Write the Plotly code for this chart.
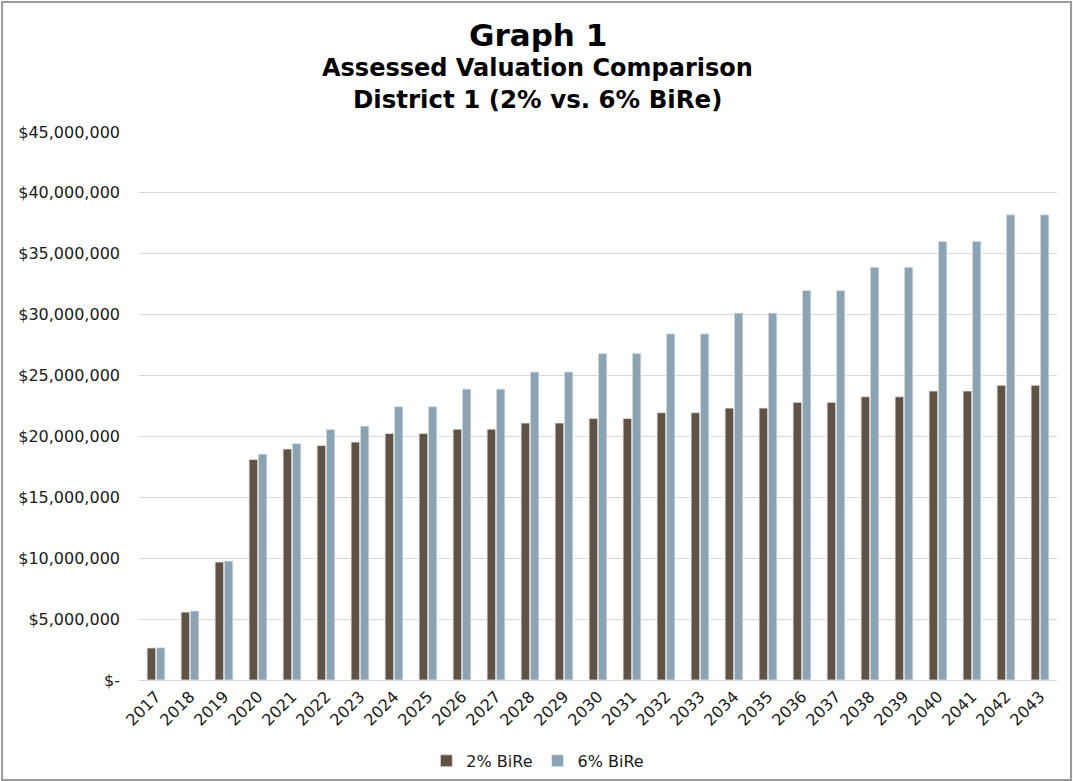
"""Assessed valuation comparison bar chart (Graph 1)."""

import plotly.graph_objects as go

years = [str(y) for y in range(2017, 2044)]

bire_2 = [
    2.63, 5.58, 9.69, 18.10, 18.97, 19.25, 19.54, 20.24, 20.24, 20.60,
    20.60, 21.10, 21.10, 21.48, 21.48, 21.95, 21.95, 22.33, 22.33, 22.80,
    22.80, 23.26, 23.26, 23.73, 23.73, 24.20, 24.20,
]
bire_6 = [
    2.65, 5.67, 9.77, 18.55, 19.42, 20.57, 20.85, 22.45, 22.45, 23.89,
    23.89, 25.30, 25.30, 26.82, 26.82, 28.43, 28.43, 30.13, 30.13, 31.99,
    31.99, 33.90, 33.90, 36.02, 36.02, 38.20, 38.20,
]
bire_2 = [v * 1_000_000 for v in bire_2]
bire_6 = [v * 1_000_000 for v in bire_6]

y_ticks = [i * 5_000_000 for i in range(10)]
y_labels = ["$-"] + [f"${v:,.0f}" for v in y_ticks[1:]]

title_lines = ["Graph 1", "Assessed Valuation Comparison", "District 1 (2% vs. 6% BiRe)"]

FONT = "DejaVu Sans"
TEXT = "#1a1a1a"

fig = go.Figure()
fig.add_trace(go.Bar(
    x=years, y=bire_2, name="2% BiRe",
    marker=dict(color="#5F5346", line=dict(color="#E8E4DF", width=0.8)),
))
fig.add_trace(go.Bar(
    x=years, y=bire_6, name="6% BiRe",
    marker=dict(color="#8BA3B3", line=dict(color="#E3EBF0", width=0.8)),
))

# title lines as separate annotations so spacing matches
title_annots = []
for text, ypos, size in zip(title_lines, [1.177, 1.117, 1.060], [31, 24, 24.5]):
    title_annots.append(dict(
        text=f"<b>{text}</b>", xref="paper", yref="paper",
        x=0.4345, y=ypos, xanchor="center", yanchor="middle",
        showarrow=False, font=dict(family=FONT, size=size, color="#000000"),
    ))

fig.update_layout(
    width=1073,
    height=781,
    template="plotly_white",
    paper_bgcolor="white",
    plot_bgcolor="white",
    font=dict(family=FONT, size=16, color=TEXT),
    margin=dict(l=139, r=16, t=132, b=101, autoexpand=False),
    barmode="group",
    bargap=0.46,
    bargroupgap=0.06,
    annotations=title_annots,
    legend=dict(
        orientation="h",
        x=0.4345,
        xanchor="center",
        y=-0.1475,
        yanchor="middle",
        font=dict(size=16, color=TEXT),
        traceorder="normal",
    ),
    shapes=[
        dict(
            type="rect", xref="paper", yref="paper",
            x0=-0.1492, x1=1.0153, y0=-0.1825, y1=1.2372,
            line=dict(color="#9A9A9A", width=2),
        )
    ],
)
fig.update_xaxes(
    tickangle=-45,
    showgrid=False,
    showline=True,
    linecolor="#D9D9D9",
    ticks="",
    automargin=False,
    tickfont=dict(size=16, color=TEXT),
)
fig.update_yaxes(
    range=[0, 45_000_000],
    tickvals=y_ticks,
    ticktext=y_labels,
    showgrid=True,
    gridcolor="#D9D9D9",
    gridwidth=1,
    zeroline=False,
    ticks="",
    automargin=False,
    ticklabelstandoff=18,
    tickfont=dict(size=16, color=TEXT),
)

# page body has a default 8px margin; drop it so the figure sits at the corner
fig.write_html(
    "out.html",
    config={"displayModeBar": False},
    post_script="document.body.style.margin='0';",
)
